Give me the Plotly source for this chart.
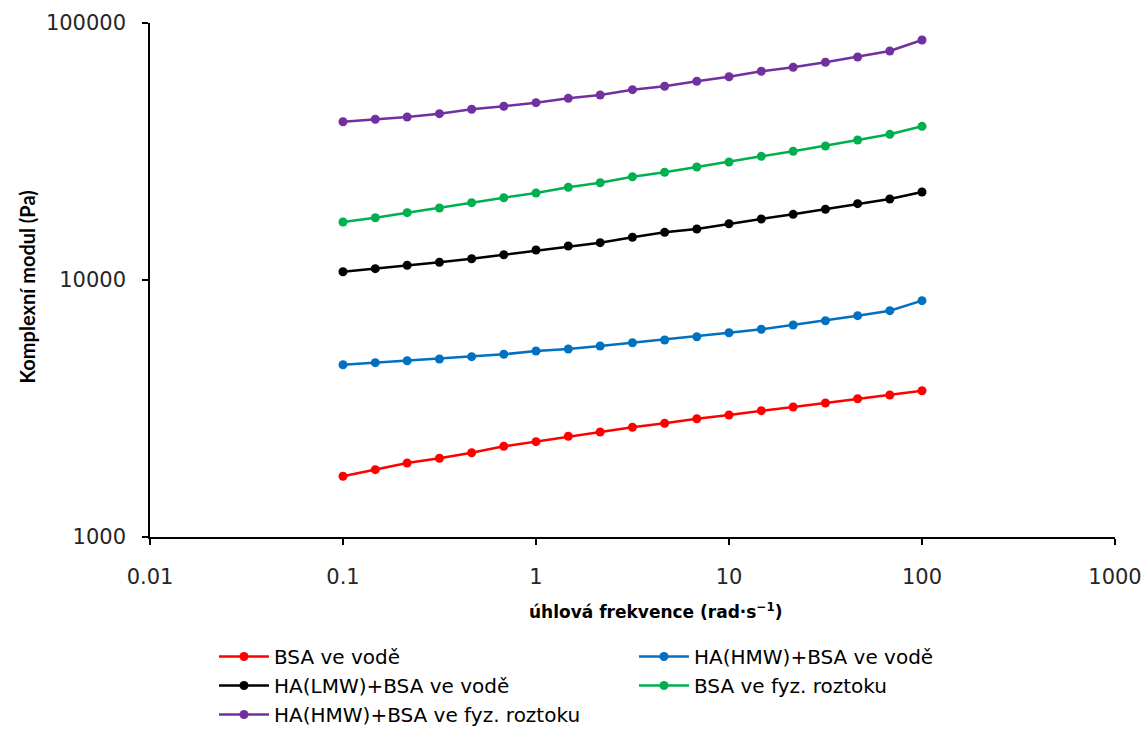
import plotly.graph_objects as go

freq = [0.1, 0.147, 0.215, 0.316, 0.464, 0.681, 1, 1.47, 2.15, 3.16, 4.64, 6.81,
        10, 14.7, 21.5, 31.6, 46.4, 68.1, 100]

bsa_voda = [1723, 1828, 1941, 2024, 2128, 2254, 2349, 2465, 2563, 2672, 2770, 2886,
            2984, 3101, 3206, 3321, 3452, 3568, 3709]
hmw_voda = [4682, 4767, 4853, 4928, 5031, 5139, 5293, 5389, 5536, 5702, 5842, 6017,
            6236, 6430, 6682, 6944, 7263, 7596, 8309]
lmw_voda = [10770, 11070, 11410, 11720, 12100, 12540, 13080, 13560, 13970, 14660, 15330,
            15790, 16560, 17280, 18010, 18840, 19820, 20660, 22000]
bsa_fyz = [16810, 17470, 18280, 19070, 19990, 20900, 21800, 22950, 23910, 25230, 26250,
           27530, 28780, 30290, 31680, 33210, 35050, 36880, 39630]
hmw_fyz = [41300, 42200, 43070, 44380, 46160, 47420, 48970, 50930, 52450, 55030, 56730,
           59340, 61800, 64870, 67240, 70320, 73770, 77800, 85880]

names = ["BSA ve vodě", "HA(HMW)+BSA ve vodě", "HA(LMW)+BSA ve vodě",
         "BSA ve fyz. roztoku", "HA(HMW)+BSA ve fyz. roztoku"]
series = [bsa_voda, hmw_voda, lmw_voda, bsa_fyz, hmw_fyz]
colors = ["#FF0000", "#0070C0", "#000000", "#00B050", "#7030A0"]

x_ticks = [0.01, 0.1, 1, 10, 100, 1000]
x_tick_text = ["0.01", "0.1", "1", "10", "100", "1000"]
y_ticks = [1000, 10000, 100000]
y_tick_text = ["1000", "10000", "100000"]

FONT = "DejaVu Sans"

fig = go.Figure()
for n, s, c in zip(names, series, colors):
    fig.add_trace(go.Scatter(x=freq, y=s, name=n, mode="lines+markers",
                             line=dict(color=c, width=2.5),
                             marker=dict(color=c, size=9)))

fig.update_layout(
    width=1145, height=734,
    margin=dict(l=150, r=30, t=23, b=197, autoexpand=False),
    paper_bgcolor="white", plot_bgcolor="white",
    font=dict(family=FONT, size=20, color="#000000"),
    showlegend=True,
    legend=dict(orientation="h", xref="paper", x=0.0663, xanchor="left",
                yref="container", y=-0.008, yanchor="bottom",
                entrywidth=355, entrywidthmode="pixels", itemwidth=50,
                font=dict(family=FONT, size=20, color="#000000"),
                tracegroupgap=0, bgcolor="rgba(0,0,0,0)"),
    xaxis=dict(type="log", range=[-2, 3], showgrid=False, zeroline=False,
               automargin=False,
               showline=True, linecolor="#000000", linewidth=1.5,
               ticks="outside", ticklen=6, tickcolor="#000000", tickwidth=1.5,
               tickvals=x_ticks, ticktext=x_tick_text, ticklabelstandoff=14,
               tickfont=dict(family=FONT, size=21, color="#262626")),
    yaxis=dict(type="log", range=[3, 5], showgrid=False, zeroline=False,
               automargin=False,
               showline=True, linecolor="#000000", linewidth=1.5,
               ticks="outside", ticklen=6, tickcolor="#000000", tickwidth=1.5,
               tickvals=y_ticks, ticktext=y_tick_text, ticklabelstandoff=12,
               tickfont=dict(family=FONT, size=21, color="#262626")),
    annotations=[
        dict(text="<b>úhlová frekvence (rad·s<sup>−1</sup>)</b>",
             xref="paper", yref="paper", x=0.524, y=-0.144,
             xanchor="center", yanchor="middle", showarrow=False,
             font=dict(family=FONT, size=17, color="#000000")),
        dict(text="<b>Komplexní modul (Pa)</b>", textangle=-90,
             xref="paper", yref="paper", x=-0.1284, y=0.4854,
             xanchor="center", yanchor="middle", showarrow=False,
             font=dict(family="Lato", size=20, color="#000000")),
    ],
)

fig.write_html("out.html",
               config={"displayModeBar": False},
               post_script="document.body.style.margin='0';"
                           "document.body.style.overflow='hidden';")
